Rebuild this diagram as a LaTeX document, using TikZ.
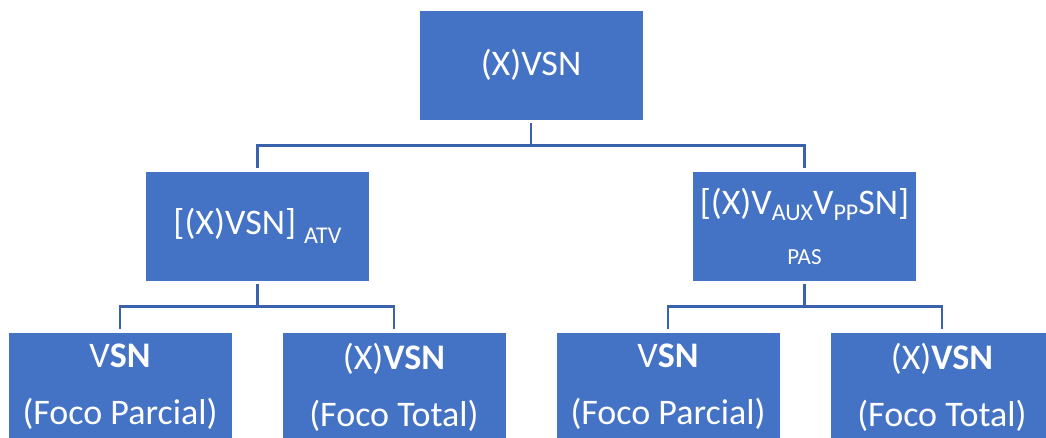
\documentclass[tikz,border=0pt]{standalone}
\usepackage{fontspec}
\setmainfont{Carlito}
\usepackage{xcolor}
\definecolor{boxblue}{HTML}{4472C4}
\definecolor{lineblue}{HTML}{3A62AC}
\newcommand{\lowtext}[2]{\raisebox{#1}{\fontsize{24}{24}\selectfont #2}}

\begin{document}
\begin{tikzpicture}[x=1pt,y=1pt,
    box/.style={fill=boxblue, draw=white, line width=0.8pt, text=white,
      minimum width=224pt, minimum height=110pt, inner sep=0pt, align=center},
    link/.style={draw=lineblue, line width=2.4pt, shorten <=3pt, shorten >=3pt}]
        \useasboundingbox (0,0) rectangle (1046,437);
        \clip (0,0) rectangle (1046,437);
        % Racine
        \node[box, font=\fontsize{36}{42}\selectfont] (top) at (531,372) {(X)VSN};
        % Niveau 2
        \node[box, font=\fontsize{36}{42}\selectfont] (atv) at (257.5,211) {[(X)VSN] \lowtext{-9pt}{ATV}};
        \node[box, font=\fontsize{36}{50}\selectfont] (pas) at (804.5,211)
            {[(X)V\lowtext{-6pt}{AUX}V\lowtext{-6pt}{PP}SN]\\{\fontsize{23}{23}\selectfont PAS}};
        % Niveau 3
        \node[box, font=\fontsize{36}{57}\selectfont] (vsnA) at (120,50) {V\textbf{SN}\\(Foco Parcial)};
        \node[box, font=\fontsize{36}{57}\selectfont] (xvsnA) at (394,50) {(X)\textbf{VSN}\\(Foco Total)};
        \node[box, font=\fontsize{36}{57}\selectfont] (vsnB) at (668,50) {V\textbf{SN}\\(Foco Parcial)};
        \node[box, font=\fontsize{36}{57}\selectfont] (xvsnB) at (942,50) {(X)\textbf{VSN}\\(Foco Total)};
        % Liens
        \draw[link] (top.south) -- ++(0,-25) -| (atv.north);
        \draw[link] (top.south) -- ++(0,-25) -| (pas.north);
        \draw[link] (atv.south) -- ++(0,-25) -| (vsnA.north);
        \draw[link] (atv.south) -- ++(0,-25) -| (xvsnA.north);
        \draw[link] (pas.south) -- ++(0,-25) -| (vsnB.north);
        \draw[link] (pas.south) -- ++(0,-25) -| (xvsnB.north);
\end{tikzpicture}
\end{document}
